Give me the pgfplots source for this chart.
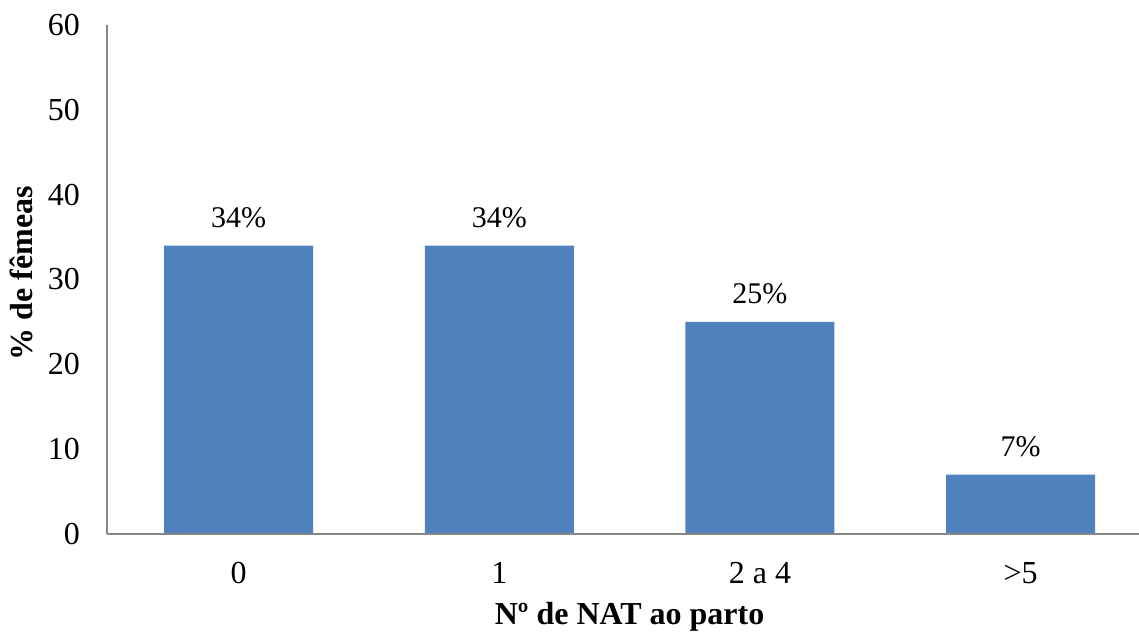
\documentclass[border=0pt]{standalone}
\usepackage{pgfplots}
\pgfplotsset{compat=1.18}
\usepackage{fontspec}
\setmainfont{Liberation Serif}
\definecolor{barblue}{HTML}{4F81BD}
\definecolor{axisgray}{RGB}{134,134,134}
\begin{document}
\begin{tikzpicture}[font=\fontsize{32}{38}\selectfont]
\begin{axis}[
  scale only axis,
  width=1032pt, height=509pt,
  at={(0pt,0pt)}, anchor=south west,
  xmin=-0.505, xmax=3.454,
  ymin=0, ymax=60,
  ytick={0,10,...,60},
  xtick=data,
  xticklabels={0,1,2 a 4,>5},
  axis x line*=bottom, axis y line*=left,
  axis line style={axisgray, line width=1.4pt, -},
  major tick length=0pt,
  /pgf/number format/assume math mode=true,
  yticklabel style={anchor=east, inner sep=0pt, xshift=-27pt},
  xticklabel style={anchor=base, inner sep=0pt, yshift=-49pt},
  ybar, bar width=149pt,
  axis on top,
  nodes near coords={\pgfmathprintnumber{\pgfplotspointmeta}\%},
  every node near coord/.append style={anchor=base, inner sep=0pt, yshift=18pt,
    font=\fontsize{30}{36}\selectfont},
  clip=false,
]
\addplot[fill=barblue, draw=none] coordinates {(0,34) (1,34) (2,25) (3,7)};
\node[anchor=base, inner sep=0pt, font=\fontsize{32}{38}\selectfont\bfseries]
  at ([yshift=-90pt]axis cs:1.5,0) {Nº de NAT ao parto};
\node[rotate=90, anchor=base, inner sep=0pt, font=\fontsize{32}{38}\selectfont\bfseries]
  at ([xshift=-74pt, yshift=261pt]axis cs:-0.505,0) {\% de fêmeas};
\end{axis}
\pgfresetboundingbox
\path (-107pt,-97pt) rectangle (1032pt,534pt);
\end{tikzpicture}
\end{document}
